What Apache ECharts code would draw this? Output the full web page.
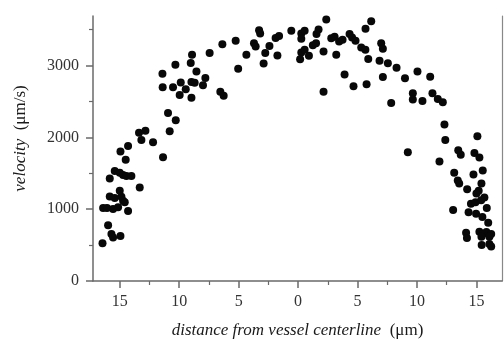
<!DOCTYPE html>
<html>
<head>
<meta charset="utf-8">
<script src="https://cdn.jsdelivr.net/npm/echarts@6/dist/echarts.min.js"></script>
<style>
html,body{margin:0;padding:0;background:#fff;}
#c{width:504px;height:344px;}
</style>
</head>
<body>
<div id="c"></div>
<script>
// distance from vessel centerline (µm); negative = left side of the plot
const xDist = [
-16.45,-15.98,-15.70,-15.56,-14.94,-16.40,-16.07,-15.56,-15.14,-14.30,
-15.84,-15.42,-14.86,-14.72,-14.58,-15.00,-15.84,-15.42,-15.00,-14.72,
-14.44,-14.02,-13.32,-14.50,-14.94,-14.30,-13.38,-12.84,-13.18,-12.20,
-11.36,-10.94,-10.29,-10.80,-11.39,-11.41,-10.52,-10.32,-9.87,-9.96,
-9.45,-8.97,-8.70,-9.03,-8.92,-8.55,-8.97,-8.00,-7.80,-7.44,
-6.37,-5.25,-4.35,-5.04,-6.54,-6.26,-3.71,-3.57,-3.28,-3.19,
-2.90,-2.76,-2.41,-1.89,-1.60,-1.74,-0.57,0.27,0.55,0.27,
0.27,0.17,0.55,0.91,1.24,1.51,1.55,1.72,2.37,2.14,
2.14,2.79,3.07,3.21,3.45,3.74,4.33,4.54,4.83,3.91,
4.66,5.31,5.66,5.76,5.67,6.15,5.90,6.85,6.99,7.13,
7.13,7.55,7.83,8.28,8.99,9.65,9.65,10.04,10.46,11.11,
11.30,11.75,12.17,12.31,12.38,9.23,11.89,13.47,13.68,15.08,
14.83,15.25,13.13,14.75,15.53,13.43,13.55,14.22,15.42,15.19,
15.00,15.67,14.54,14.92,15.40,15.87,13.04,14.34,14.97,15.50,
15.99,14.13,14.20,15.25,15.53,15.84,16.24,15.42,16.09,15.44,
16.09,16.24
];
// velocity (µm/s)
const velocity = [
525,777,653,607,626,1018,1018,1004,1027,973,
1178,1155,1174,1119,1096,1256,1429,1530,1507,1475,
1462,1462,1301,1689,1804,1881,2064,2092,1963,1932,
1722,2338,2237,2086,2699,2886,2699,3010,2763,2589,
2671,2771,2760,3037,3151,2918,2552,2726,2826,3174,
3297,3347,3151,2955,2634,2579,3311,3264,3493,3445,
3027,3174,3274,3384,3411,3141,3484,3445,3484,3373,
3182,3089,3219,3137,3281,3311,3438,3503,3641,3196,
2634,3379,3401,3151,3336,3359,3438,3390,3347,2877,
2712,3253,3219,2740,3511,3616,3092,3068,3311,3233,
2842,3032,2477,2968,2822,2616,2527,2918,2507,2845,
2616,2534,2489,2178,1963,1792,1664,1822,1758,2016,
1781,1719,1507,1484,1538,1401,1356,1278,1356,1256,
1219,1164,1075,1096,1123,1018,990,959,936,890,
812,671,600,685,653,681,653,616,616,503,
516,479
];
const xMajorTicks = [-15,-10,-5,0,5,10,15];
const xMinorTicks = [-12.5,-7.5,-2.5,2.5,7.5,12.5];
const yMajorTicks = [0,1000,2000,3000];
const yMinorTicks = [500,1500,2500,3500];

const points = xDist.map((x,i)=>[x, velocity[i]]);
const FONT = '"Liberation Serif","DejaVu Serif",serif';
const AX = '#6a6a6a';
const X_MIN = -17.25, X_MAX = 17.15, Y_MIN = 0, Y_MAX = 3690;

const chart = echarts.init(document.getElementById('c'), null, {renderer:'canvas'});
chart.setOption({
  animation:false,
  backgroundColor:'#fff',
  grid:{left:93, right:2, top:16, bottom:59, containLabel:false},
  xAxis:[{
    type:'value', min:X_MIN, max:X_MAX, position:'bottom',
    splitLine:{show:false},
    axisLine:{show:true, onZero:false, lineStyle:{color:AX, width:1.5}},
    axisTick:{show:true, customValues:xMajorTicks, length:7, lineStyle:{color:AX, width:1.5}},
    axisLabel:{customValues:xMajorTicks, margin:13, color:'#333', fontFamily:FONT, fontSize:16,
      formatter:v=>String(Math.abs(v))},
    name:'{i|distance from vessel centerline}  {n|(\u03bcm)}',
    nameLocation:'middle', nameGap:41,
    nameTextStyle:{color:'#1a1a1a', fontFamily:FONT, fontSize:17,
      rich:{i:{fontStyle:'italic', fontFamily:FONT, fontSize:17, color:'#1a1a1a'},
            n:{fontFamily:FONT, fontSize:17, color:'#1a1a1a'}}}
  },{
    type:'value', min:X_MIN, max:X_MAX, position:'bottom',
    splitLine:{show:false},
    axisLine:{show:false, onZero:false},
    axisTick:{show:true, customValues:xMinorTicks, length:4, lineStyle:{color:AX, width:1.2}},
    axisLabel:{show:false}
  }],
  yAxis:[{
    type:'value', min:Y_MIN, max:Y_MAX, position:'left',
    splitLine:{show:false},
    axisLine:{show:true, onZero:false, lineStyle:{color:AX, width:1.5}},
    axisTick:{show:true, customValues:yMajorTicks, length:7, lineStyle:{color:AX, width:1.5}},
    axisLabel:{customValues:yMajorTicks, margin:14, color:'#333', fontFamily:FONT, fontSize:16,
      formatter:v=>String(v)},
    name:'{i|velocity}  {n|(\u03bcm/s)}',
    nameLocation:'middle', nameGap:64, nameRotate:90,
    nameTextStyle:{color:'#1a1a1a', fontFamily:FONT, fontSize:17, padding:[0,0,0,20],
      rich:{i:{fontStyle:'italic', fontFamily:FONT, fontSize:17, color:'#1a1a1a'},
            n:{fontFamily:FONT, fontSize:17, color:'#1a1a1a'}}}
  },{
    type:'value', min:Y_MIN, max:Y_MAX, position:'left',
    splitLine:{show:false},
    axisLine:{show:false, onZero:false},
    axisTick:{show:true, customValues:yMinorTicks, length:4, lineStyle:{color:AX, width:1.2}},
    axisLabel:{show:false}
  },{
    type:'value', min:Y_MIN, max:Y_MAX, position:'right',
    splitLine:{show:false},
    axisLine:{show:true, onZero:false, lineStyle:{color:'#888', width:1.2}},
    axisTick:{show:false},
    axisLabel:{show:false}
  }],
  series:[{
    type:'scatter', xAxisIndex:0, yAxisIndex:0,
    data:points, symbol:'circle', symbolSize:8,
    itemStyle:{color:'#080808', opacity:1}
  }]
});
</script>
</body>
</html>
